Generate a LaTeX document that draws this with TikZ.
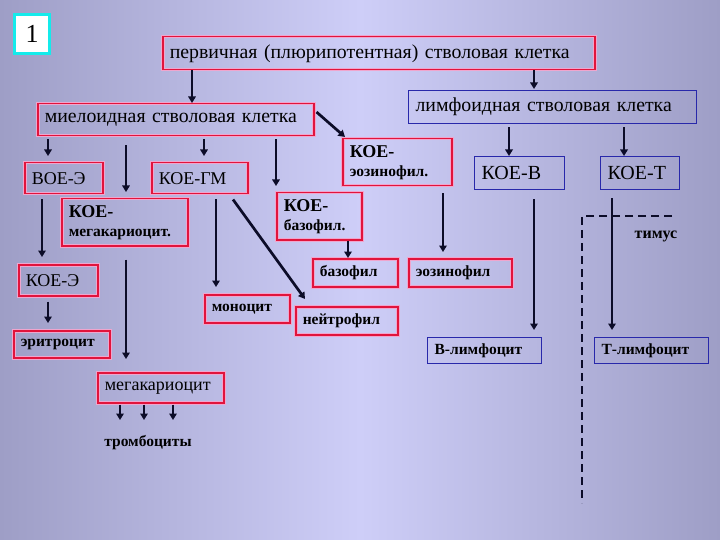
\documentclass[tikz,border=0pt]{standalone}
\usepackage{fontspec}
\setmainfont{Liberation Serif}
\usetikzlibrary{arrows.meta,calc}
\definecolor{rc}{RGB}{225,20,60}
\definecolor{glow}{RGB}{240,165,205}
\definecolor{bc}{RGB}{40,40,170}
\definecolor{ac}{RGB}{12,12,40}
\definecolor{bgl}{RGB}{158,158,198}
\definecolor{bgm}{RGB}{206,206,248}
\definecolor{cy}{RGB}{20,235,235}
\newcommand\fs[2]{\fontsize{#1}{#2}\selectfont}
\begin{document}
\begin{tikzpicture}[x=1pt,y=-1pt,
  box/.style={anchor=north west, inner xsep=7pt, inner ysep=0pt, align=left, text=black},
  redbox/.style={box, draw=rc, line width=1.5pt, preaction={draw=glow, line width=3.5pt}},
  bluebox/.style={box, draw=bc, line width=1.2pt},
  arr/.style={draw=ac, line width=2.7pt, -{Triangle[length=6.5pt,width=7.5pt]}},
  reg/.style={font=\fs{19.8}{22}},
  regb/.style={font=\fs{18}{22}},
  bsm/.style={font=\bfseries\fs{15.5}{19}},
  two/.style={font=\bfseries\fs{15.5}{19}},
]
\shade[left color=bgl, right color=bgl, middle color=bgm] (0,0) rectangle (720,540);
\useasboundingbox (0,0) rectangle (720,540);

% number box
\node[draw=cy, line width=3pt, fill=white, anchor=north west, inner sep=0pt,
      minimum width=35pt, minimum height=39pt, font=\fs{26}{26}] (one) at (13,13) {1};

% boxes
\node[redbox, reg, minimum width=432pt, minimum height=33pt, text width=418pt] (top) at (162,36) {первичная (плюрипотентная) стволовая клетка};
\node[redbox, reg, minimum width=276pt, minimum height=32pt, text width=262pt] (mye) at (37,103) {миелоидная стволовая клетка};
\node[bluebox, reg, minimum width=288pt, minimum height=33pt, text width=274pt] (lym) at (408,90) {лимфоидная стволовая клетка};
\node[redbox, two, minimum width=109pt, minimum height=47pt, text width=95pt] (keo) at (342,138) {{\fs{18}{19}КОЕ-}\\эозинофил.};
\node[redbox, regb, minimum width=78pt, minimum height=31pt, text width=64pt] (voe) at (24,162) {ВОЕ-Э};
\node[redbox, regb, minimum width=96pt, minimum height=31pt, text width=82pt] (kgm) at (151,162) {КОЕ-ГМ};
\node[redbox, two, minimum width=126pt, minimum height=47pt, text width=112pt] (kmeg) at (61,198) {{\fs{18}{19}КОЕ-}\\мегакариоцит.};
\node[redbox, two, minimum width=85pt, minimum height=47pt, text width=71pt] (kbaz) at (276,192) {{\fs{18}{19}КОЕ-}\\базофил.};
\node[bluebox, font=\fs{20}{22}, minimum width=90pt, minimum height=33pt, text width=76pt] (kb) at (474,156) {КОЕ-В};
\node[bluebox, font=\fs{20}{22}, minimum width=79pt, minimum height=33pt, text width=65pt] (kt) at (600,156) {КОЕ-Т};
\node[redbox, bsm, minimum width=85pt, minimum height=28pt, text width=71pt] (baz) at (312,258) {базофил};
\node[redbox, bsm, minimum width=103pt, minimum height=28pt, text width=89pt] (eoz) at (408,258) {эозинофил};
\node[redbox, regb, minimum width=79pt, minimum height=31pt, text width=65pt] (ke) at (18,264) {КОЕ-Э};
\node[redbox, bsm, minimum width=85pt, minimum height=28pt, text width=71pt] (mono) at (204,294) {моноцит};
\node[redbox, bsm, minimum width=102pt, minimum height=28pt, text width=88pt] (neut) at (295,306) {нейтрофил};
\node[redbox, bsm, minimum width=96pt, minimum height=27pt, text width=82pt] (eri) at (13,330) {эритроцит};
\node[bluebox, bsm, minimum width=114pt, minimum height=26pt, text width=100pt] (bly) at (427,337) {В-лимфоцит};
\node[bluebox, bsm, minimum width=114pt, minimum height=26pt, text width=100pt] (tly) at (594,337) {Т-лимфоцит};
\node[redbox, regb, minimum width=126pt, minimum height=30pt, text width=112pt] (meg) at (97,372) {мегакариоцит};
\node[bsm, anchor=base, inner sep=0pt] (thr) at (148,446) {тромбоциты};
\node[font=\bfseries\fs{16}{19}, anchor=base, inner sep=0pt] (tim) at (656,239) {тимус};

% connectors
\draw[arr] ($(top.south west)+(30,0)$) -- ($(mye.north west)+(155,0)$);
\draw[arr] ($(top.south west)+(372,0)$) -- ($(lym.north west)+(126,-1)$);
\draw[arr] ($(mye.north east)+(2,9)$) -- ($(keo.north west)+(3,-1)$);
\draw[arr] ($(mye.south west)+(11,3)$) -- ($(voe.north west)+(24,-6)$);
\draw[arr] ($(mye.south west)+(89,9)$) -- ($(kmeg.north west)+(65,-6)$);
\draw[arr] ($(mye.south west)+(167,3)$) -- ($(kgm.north west)+(53,-6)$);
\draw[arr] ($(mye.south west)+(239,3)$) -- ($(kbaz.north west)+(0,-6)$);
\draw[arr] ($(lym.south west)+(101,3)$) -- ($(kb.north west)+(35,0)$);
\draw[arr] ($(lym.south west)+(216,3)$) -- ($(kt.north west)+(24,0)$);
\draw[arr] ($(keo.south west)+(101,7)$) -- ($(eoz.north west)+(35,-6)$);
\draw[arr] ($(kbaz.south west)+(72,0)$) -- ($(baz.north west)+(36,0)$);
\draw[arr] ($(voe.south west)+(18,5)$) -- ($(ke.north west)+(24,-7)$);
\draw[arr] ($(ke.south west)+(30,5)$) -- ($(eri.north west)+(35,-7)$);
\draw[arr] ($(kmeg.south west)+(65,13)$) -- ($(meg.north west)+(29,-13)$);
\draw[arr] ($(kgm.south west)+(65,5)$) -- ($(mono.north west)+(12,-7)$);
\draw[arr] ($(kgm.south west)+(82,5)$) -- ($(neut.north west)+(10,-7)$);
\draw[arr] ($(meg.south west)+(23,1)$) -- ($(thr.base)+(-28,-26)$);
\draw[arr] ($(meg.south west)+(47,1)$) -- ($(thr.base)+(-4,-26)$);
\draw[arr] ($(meg.south west)+(76,1)$) -- ($(thr.base)+(25,-26)$);
\draw[arr] ($(kb.south west)+(60,9)$) -- ($(bly.north west)+(107,-7)$);
\draw[arr] ($(kt.south west)+(12,8)$) -- ($(tly.north west)+(18,-7)$);

% thymus boundary
\draw[ac, line width=2.6pt, dash pattern=on 8pt off 5pt] (672,216) -- (582,216) -- (582,503);
\end{tikzpicture}
\end{document}
